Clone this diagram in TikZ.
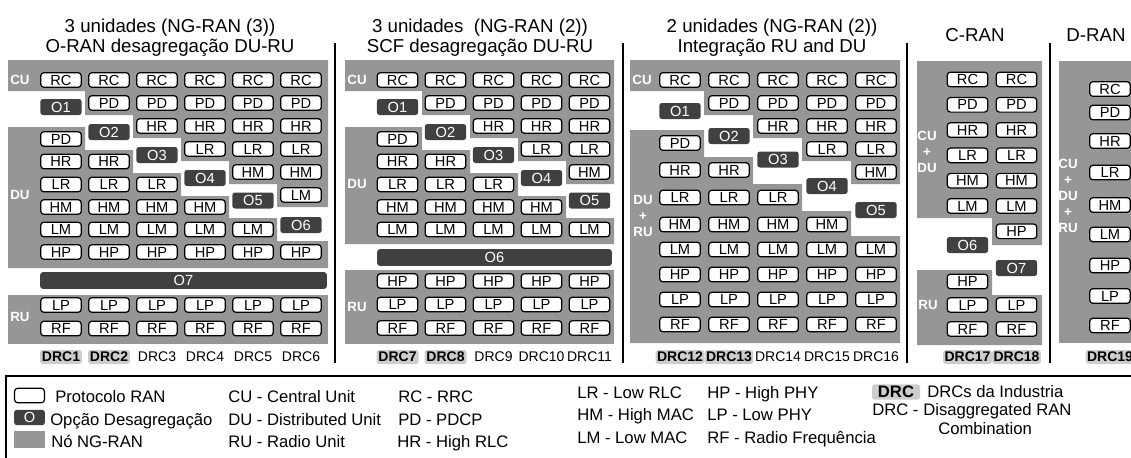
\documentclass[tikz,border=0pt]{standalone}
\usepackage{fontspec}
\setmainfont{Liberation Sans}
\usepackage{tikz}
\usetikzlibrary{positioning}

\definecolor{ngran}{RGB}{150,150,150}
\definecolor{optdark}{RGB}{64,64,64}
\definecolor{drcgray}{RGB}{205,205,205}

\begin{document}
\begin{tikzpicture}[
  x=0.75pt, y=-0.75pt,
  proto/.style={
    draw, fill=white, rounded corners=2.5pt, line width=0.9pt,
    minimum width=30.5pt, minimum height=11pt, inner sep=0pt,
    font=\fontsize{11}{11}\selectfont
  },
  optbox/.style={
    fill=optdark, text=white, rounded corners=2pt,
    minimum width=31pt, minimum height=12pt, inner sep=0pt,
    font=\fontsize{11}{11}\selectfont
  },
  unitlbl/.style={text=white, align=center, inner sep=0pt,
    font=\bfseries\fontsize{10}{12}\selectfont},
  drc/.style={inner sep=0pt, font=\fontsize{10.5}{12}\selectfont},
  drcind/.style={drc, fill=drcgray, rounded corners=2pt,
    minimum width=31.5pt, minimum height=10.5pt, inner xsep=1pt,
    font=\bfseries\fontsize{10.5}{12}\selectfont},
  heading/.style={align=center, font=\fontsize{14}{15}\selectfont},
  legtext/.style={anchor=base west, inner sep=0pt,
    font=\fontsize{12.5}{14}\selectfont},
  divider/.style={line width=1.1pt}
]
\useasboundingbox (0,0) rectangle (1131,457);
\clip (0,0) rectangle (1131,457);

% ---- Titulos ----
\node[heading] (t1) at (170,38) {3 unidades (NG-RAN (3))\\O-RAN desagregação DU-RU};
\node[heading] (t2) at (480,38) {3 unidades\ \ (NG-RAN (2))\\SCF desagregação DU-RU};
\node[heading] (t3) at (772,38) {2 unidades (NG-RAN (2))\\Integração RU and DU};
\node[heading] (t4) at (975,35) {C-RAN};
\node[heading] (t5) at (1096,35) {D-RAN};

% ---- Separadores ----
\foreach \sx in {335,623,907,1050}
  \draw[divider] (\sx,43) -- (\sx,363);

% ---- Nos NG-RAN (fundo cinza) ----
% O-RAN
\fill[ngran] (8,60) -- (328,60) -- (328,207) -- (277,207) -- (277,184) -- (229,184)
  -- (229,161) -- (181,161) -- (181,138) -- (133,138) -- (133,115) -- (85,115)
  -- (85,91) -- (8,91) -- cycle;
\fill[ngran] (8,127) -- (85,127) -- (85,150) -- (133,150) -- (133,173) -- (181,173)
  -- (181,196) -- (229,196) -- (229,218) -- (277,218) -- (277,241) -- (328,241)
  -- (328,268) -- (8,268) -- cycle;
\fill[ngran] (8,295) rectangle (328,344);
% SCF
\fill[ngran] (345,60) -- (614,60) -- (614,184) -- (566,184) -- (566,161) -- (518,161)
  -- (518,138) -- (470,138) -- (470,115) -- (422,115) -- (422,91) -- (345,91) -- cycle;
\fill[ngran] (345,127) -- (422,127) -- (422,150) -- (470,150) -- (470,173) -- (518,173)
  -- (518,196) -- (566,196) -- (566,218) -- (614,218) -- (614,244) -- (345,244) -- cycle;
\fill[ngran] (345,270) rectangle (614,344);
% Integracao
\fill[ngran] (630,60) -- (900,60) -- (900,184) -- (851,184) -- (851,161) -- (802,161)
  -- (802,138) -- (753,138) -- (753,115) -- (704,115) -- (704,91) -- (630,91) -- cycle;
\fill[ngran] (630,130) -- (704,130) -- (704,157) -- (753,157) -- (753,184) -- (802,184)
  -- (802,211) -- (851,211) -- (851,236) -- (900,236) -- (900,343) -- (630,343) -- cycle;
% C-RAN
\fill[ngran] (917,61) -- (1042,61) -- (1042,245) -- (992,245) -- (992,218) -- (917,218) -- cycle;
\fill[ngran] (917,270) -- (992,270) -- (992,295) -- (1042,295) -- (1042,345) -- (917,345) -- cycle;
% D-RAN
\fill[ngran] (1059,61) rectangle (1140,343);

% ---- Rotulos das unidades ----
\node[unitlbl] (cu1) at (20,80) {CU};
\node[unitlbl] (du1) at (20,195) {DU};
\node[unitlbl] (ru1) at (20,316.5) {RU};
\node[unitlbl] (cu2) at (357,80) {CU};
\node[unitlbl] (du2) at (357,184) {DU};
\node[unitlbl] (ru2) at (357,307) {RU};
\node[unitlbl] (cu3) at (642,80) {CU};
\node[unitlbl] (du3) at (643,216) {DU\\+\\RU};
\node[unitlbl] (cu4) at (927,152) {CU\\+\\DU};
\node[unitlbl] (ru4) at (928,305) {RU};
\node[unitlbl] (cu5) at (1068,196) {CU\\+\\DU\\+\\RU};

% ---- O-RAN: DRC1..DRC6 ----
\foreach \k/\x/\oy in {1/61/107,2/109/132,3/157/155,4/205/178,5/253/200.5,6/301/225} {
  \foreach \l/\yu/\yd [count=\i] in {RC/80/0,PD/103/139,HR/126/161.5,LR/149/184.5,
                                     HM/172/207,LM/195/229.5,HP/0/252} {
    \ifnum\i>\k \node[proto] (o\k\l) at (\x,\yd) {\l};
    \else \node[proto] (o\k\l) at (\x,\yu) {\l};
    \fi
  }
  \node[optbox] (o\k-opt) at (\x,\oy) {O\k};
  \node[proto] (o\k LP) at (\x,305) {LP};
  \node[proto] (o\k RF) at (\x,328.5) {RF};
}
\node[optbox, minimum width=215pt, minimum height=12.5pt] (o7-opt) at (183.5,280.5) {O7};

% ---- SCF: DRC7..DRC11 ----
\foreach \k/\x/\oy in {1/397.5/107,2/445.5/132,3/493.5/155,4/541.5/178,5/589.5/200.5} {
  \foreach \l/\yu/\yd [count=\i] in {RC/80/0,PD/103/139,HR/126/161.5,LR/149/184.5,
                                     HM/172/207,LM/0/229.5} {
    \ifnum\i>\k \node[proto] (s\k\l) at (\x,\yd) {\l};
    \else \node[proto] (s\k\l) at (\x,\yu) {\l};
    \fi
  }
  \node[optbox] (s\k-opt) at (\x,\oy) {O\k};
  \node[proto] (s\k HP) at (\x,281) {HP};
  \node[proto] (s\k LP) at (\x,304.5) {LP};
  \node[proto] (s\k RF) at (\x,328) {RF};
}
\node[optbox, minimum width=176pt, minimum height=12.5pt] (s6-opt) at (494.5,257.5) {O6};

% ---- Integracao RU e DU: DRC12..DRC16 ----
\foreach \k/\x/\oy in {1/680/111,2/729/136,3/778/159.5,4/827/186,5/876/210} {
  \foreach \l/\yu/\yd [count=\i] in {RC/80/0,PD/103/143,HR/126/170,LR/149/197.5,
                                     HM/172/224.5,LM/0/249.5,HP/0/274.5,LP/0/299.5,RF/0/324.5} {
    \ifnum\i>\k \node[proto] (g\k\l) at (\x,\yd) {\l};
    \else \node[proto] (g\k\l) at (\x,\yu) {\l};
    \fi
  }
  \node[optbox] (g\k-opt) at (\x,\oy) {O\k};
}

% ---- C-RAN: DRC17, DRC18 ----
\foreach \l/\y in {RC/79.5,PD/104.8,HR/130,LR/155.4,HM/180.7,LM/206} {
  \node[proto] (c1\l) at (967.5,\y) {\l};
  \node[proto] (c2\l) at (1016.5,\y) {\l};
}
\node[proto] (c2HP) at (1016.5,231.3) {HP};
\node[optbox] (c1-opt) at (967.5,245) {O6};
\node[optbox] (c2-opt) at (1016.5,268) {O7};
\node[proto] (c1HP) at (967.5,281.5) {HP};
\foreach \l/\y in {LP/305,RF/329} {
  \node[proto] (c1\l) at (967.5,\y) {\l};
  \node[proto] (c2\l) at (1016.5,\y) {\l};
}

% ---- D-RAN: DRC19 ----
\foreach \l/\y in {RC/89,PD/112.5,HR/141,LR/172.5,HM/205,LM/234.5,HP/265.5,LP/296,RF/325.5}
  \node[proto] (d\l) at (1110,\y) {\l};

% ---- Rotulos DRC ----
\foreach \n/\x in {1/61,2/109,7/397.5,8/445.5,12/680,13/729,17/967.5,18/1016.5,19/1110}
  \node[drcind] (drc\n) at (\x,357) {DRC\n};
\foreach \n/\x in {3/157,4/205,5/253,6/301,9/493.5,10/541.5,11/589.5,14/778,15/827,16/876}
  \node[drc] (drc\n) at (\x,357) {DRC\n};

% ---- Legenda ----
\draw[divider] (6,470) -- (6,376) -- (1140,376);
\node[proto, minimum width=22.5pt] (lg1) at (29.5,395.5) {};
\node[optbox, minimum width=23pt, minimum height=11.5pt] (lg2) at (29.5,417.5) {O};
\node[fill=ngran, minimum width=23pt, minimum height=12.5pt, inner sep=0pt] (lg3) at (29.5,439.5) {};
\node[legtext] (lt1) at (55,402) {Protocolo RAN};
\node[legtext] (lt2) at (50,425) {Opção Desagregação};
\node[legtext] (lt3) at (51,447) {Nó NG-RAN};
\node[legtext] (lt4) at (228,402) {CU - Central Unit};
\node[legtext] (lt5) at (228,425) {DU - Distributed Unit};
\node[legtext] (lt6) at (228,447) {RU - Radio Unit};
\node[legtext] (lt7) at (398,402) {RC - RRC};
\node[legtext] (lt8) at (398,425) {PD - PDCP};
\node[legtext] (lt9) at (397,447) {HR - High RLC};
\node[legtext] (lt10) at (577,398) {LR - Low RLC};
\node[legtext] (lt11) at (577,420) {HM - High MAC};
\node[legtext] (lt12) at (577,443) {LM - Low MAC};
\node[legtext] (lt13) at (707,398) {HP - High PHY};
\node[legtext] (lt14) at (707,420) {LP - Low PHY};
\node[legtext] (lt15) at (707,443) {RF - Radio Frequência};
\node[drcind, minimum width=36pt, minimum height=11.5pt,
      font=\bfseries\fontsize{12.5}{14}\selectfont] (lg4) at (896,392) {DRC};
\node[legtext] (lt16) at (927,397) {DRCs da Industria};
\node[legtext] (lt17) at (872,415) {DRC -};
\node[legtext, align=left] (lt18) at (923,415) {Disaggregated RAN};
\node[legtext] (lt19) at (938,434) {Combination};

\end{tikzpicture}
\end{document}
